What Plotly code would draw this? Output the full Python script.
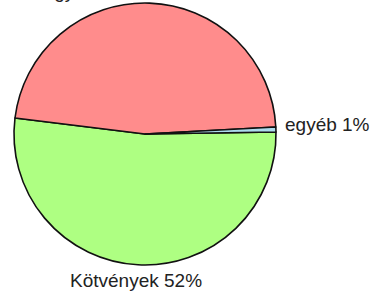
import plotly.graph_objects as go

labels = ["Kötvények", "Vegyes", "egyéb"]
values = [52.2, 47.2, 0.6]
label_texts = ["Kötvények 52%", "Vegyes 47%", "egyéb 1%"]
colors = ["#AEFF82", "#FF8C8C", "#ADDCEE"]

W, H = 372, 291

fig = go.Figure()
fig.add_trace(go.Pie(
    labels=labels,
    values=values,
    sort=False,
    direction="clockwise",
    rotation=89.1,
    textinfo="none",
    hoverinfo="label+percent",
    marker=dict(colors=colors, line=dict(color="#111111", width=1.6)),
    domain=dict(x=[14 / W, 276 / W], y=[(H - 265) / H, (H - 3) / H]),
    showlegend=False,
))

font = dict(family="Liberation Sans, Arial, sans-serif", size=19, color="#222222")
# label positions (pixels)
ann = [
    (label_texts[0], 135.5, 280, "center"),
    (label_texts[1], 30, -9, "left"),
    (label_texts[2], 283, 124, "left"),
]
for txt, px, py, anchor in ann:
    fig.add_annotation(
        text=txt, xref="paper", yref="paper",
        x=px / W, y=(H - py) / H,
        xanchor=anchor, yanchor="middle",
        showarrow=False, font=font,
    )

fig.update_layout(
    width=W, height=H,
    margin=dict(l=0, r=0, t=0, b=0),
    paper_bgcolor="white", plot_bgcolor="white",
)
fig.write_html(
    "out.html",
    config={"displayModeBar": False},
    post_script="document.body.style.margin='0';document.body.style.overflow='hidden';",
)
